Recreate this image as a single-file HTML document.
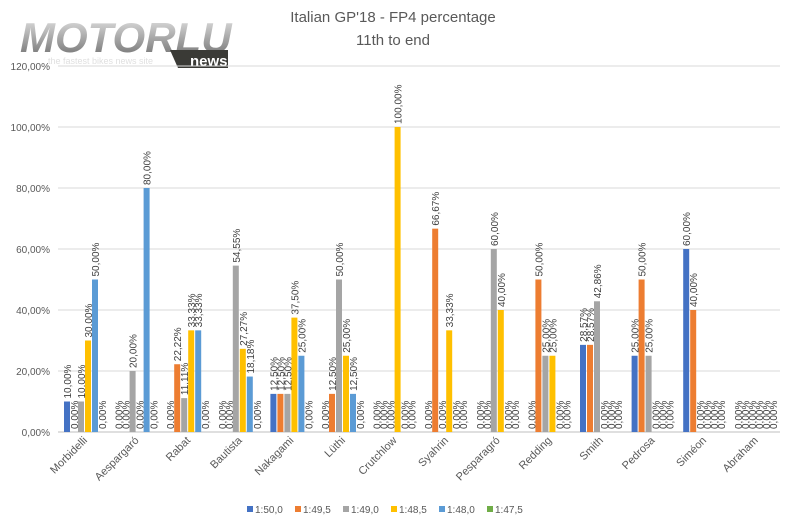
<!DOCTYPE html>
<html><head><meta charset="utf-8"><style>
body{margin:0;background:#fff;width:786px;height:526px;overflow:hidden;font-family:"Liberation Sans",sans-serif}
</style></head><body>
<svg id="c" width="786" height="526" xmlns="http://www.w3.org/2000/svg" font-family="Liberation Sans, sans-serif">
<defs><linearGradient id="lg" x1="0" y1="0" x2="0" y2="1"><stop offset="0" stop-color="#e8e8e8"/><stop offset="1" stop-color="#6a6a6a"/></linearGradient></defs>
<text x="20" y="52" font-size="42" font-weight="bold" font-style="italic" fill="url(#lg)">MOTORLU</text>
<polygon points="170,50 228,50 228,68 178,68" fill="#3a3a36"/>
<text x="190" y="66" font-size="15" font-weight="bold" fill="#fff">news</text>
<text x="48" y="64" font-size="9" fill="#e0e0e0">the fastest bikes news site</text>
<text x="393" y="22" font-size="15" text-anchor="middle" fill="#595959">Italian GP'18 - FP4 percentage</text>
<text x="393" y="45" font-size="15" text-anchor="middle" fill="#595959">11th to end</text>
</svg>
<script>
var s=document.getElementById('c'),ns='http://www.w3.org/2000/svg';
function el(t,a,txt){var e=document.createElementNS(ns,t);for(var k in a)e.setAttribute(k,a[k]);if(txt!=null)e.textContent=txt;s.appendChild(e);return e;}
var y0=432,sc=61/20,x0=58,cw=51.6;
for(var i=0;i<=6;i++){var y=y0-i*20*sc;el('line',{x1:x0,x2:780,y1:y,y2:y,stroke:i==0?'#bfbfbf':'#d9d9d9','stroke-width':1});
el('text',{x:50,y:y+4,'font-size':10,'text-anchor':'end',fill:'#595959'},(i*20)+',00%');}
var names=['Morbidelli','Aespargaró','Rabat','Bautista','Nakagami','Lüthi','Crutchlow','Syahrin','Pesparagró','Redding','Smith','Pedrosa','Siméon','Abraham'];
var d=[[10,0,10,30,50,0],[0,0,20,0,80,0],[0,22.22,11.11,33.33,33.33,0],[0,0,54.55,27.27,18.18,0],[12.5,12.5,12.5,37.5,25,0],[0,12.5,50,25,12.5,0],[0,0,0,100,0,0],[0,66.67,0,33.33,0,0],[0,0,60,40,0,0],[0,50,25,25,0,0],[28.57,28.57,42.86,0,0,0],[25,50,25,0,0,0],[60,40,0,0,0,0],[0,0,0,0,0,0]];
var cols=['#4472c4','#ed7d31','#a5a5a5','#ffc000','#5b9bd5','#70ad47'];
for(var c=0;c<14;c++){var cx=x0+cw*c;
for(var j=0;j<6;j++){var v=d[c][j],bx=cx+6+j*7,h=v*sc;
if(h>0)el('rect',{x:bx,y:y0-h,width:6,height:h,fill:cols[j]});
var tx=bx+7,ty=y0-h-3;
el('text',{x:tx,y:ty,'font-size':10,fill:'#404040',transform:'rotate(-90 '+tx+' '+ty+')'},v.toFixed(2).replace('.',',')+'%');}
var lx=cx+cw/2+4,ly=441;
el('text',{x:lx,y:ly,'font-size':11,'text-anchor':'end',fill:'#595959',transform:'rotate(-45 '+lx+' '+ly+')'},names[c]);}
var lab=['1:50,0','1:49,5','1:49,0','1:48,5','1:48,0','1:47,5'];
for(var j=0;j<6;j++){var lx=247+j*48;el('rect',{x:lx,y:506,width:6,height:6,fill:cols[j]});
el('text',{x:lx+8,y:513,'font-size':10,fill:'#595959'},lab[j]);}
</script>
</body></html>
